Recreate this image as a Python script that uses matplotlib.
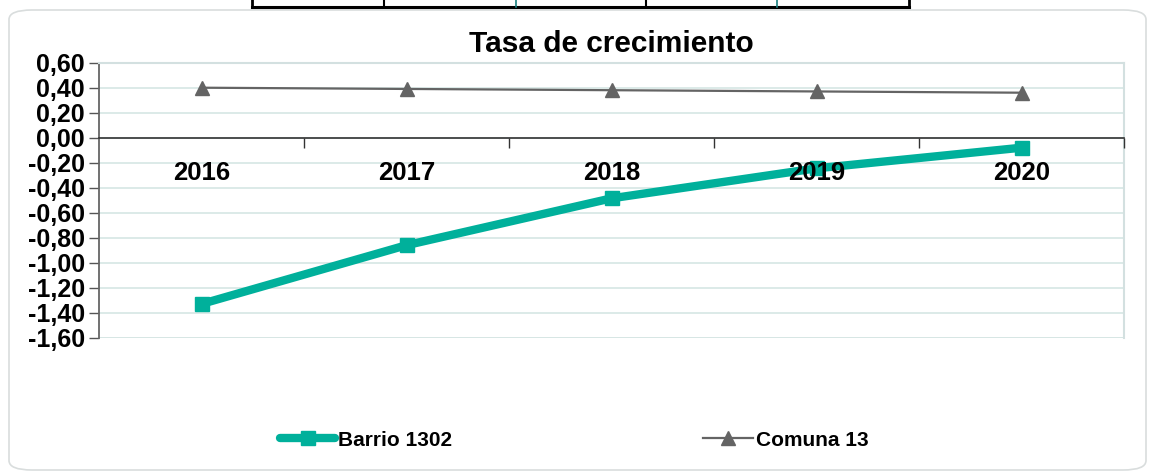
import matplotlib
matplotlib.use("Agg")
import matplotlib.pyplot as plt
from matplotlib.patches import FancyBboxPatch
from matplotlib.lines import Line2D
import numpy as np

plt.rcParams['font.family'] = ['Liberation Sans', 'DejaVu Sans']

years = ['2016', '2017', '2018', '2019', '2020']
barrio_1302 = [-1.33, -0.86, -0.485, -0.245, -0.08]
comuna_13 = [0.40, 0.39, 0.38, 0.37, 0.36]
y_ticks = [0.6, 0.4, 0.2, 0.0, -0.2, -0.4, -0.6, -0.8, -1.0, -1.2, -1.4, -1.6]

W, H = 1150, 472
fig = plt.figure(figsize=(W / 100, H / 100), dpi=100)
fig.patch.set_facecolor('white')

def fx(px):
    return px / W

def fy(py):
    return 1 - py / H

# outer rounded frame
frame = FancyBboxPatch((fx(9), fy(470)), fx(1146) - fx(9), fy(10) - fy(470),
                       boxstyle="round,pad=0,rounding_size=0.02",
                       transform=fig.transFigure, facecolor='none',
                       edgecolor='#d9dddd', linewidth=1.2, zorder=-1)
fig.patches.append(frame)

# table fragment at top
fig.add_artist(Line2D([fx(252), fx(909)], [fy(7), fy(7)], transform=fig.transFigure,
                      color='black', lw=2.2))
for xv, col, lw in [(252, 'black', 2), (384, 'black', 1.5), (516, '#1a7f7f', 1.2),
                    (646, 'black', 1.5), (777, '#1a7f7f', 1.2), (909, 'black', 2)]:
    fig.add_artist(Line2D([fx(xv), fx(xv)], [fy(0), fy(7)], transform=fig.transFigure,
                          color=col, lw=lw))

ax = fig.add_axes([fx(99), fy(337.7), fx(1124) - fx(99), fy(62.7) - fy(337.7)])
ax.set_facecolor('none')

x = np.arange(len(years))
ax.set_xlim(-0.5, len(years) - 0.5)
ax.set_ylim(-1.6, 0.6)

# gridlines
ax.set_yticks(y_ticks)
ax.set_yticklabels([('%.2f' % v).replace('.', ',').replace('-0,00', '0,00') for v in y_ticks],
                   fontsize=18, fontweight='bold')
ax.yaxis.grid(True, color='#d6e6e4', linewidth=1.2)
ax.set_axisbelow(True)
ax.tick_params(axis='y', length=7, width=1, color='#555555', pad=3)

# spines
ax.spines['left'].set_color('#666666')
ax.spines['left'].set_linewidth(1.3)
ax.spines['top'].set_color('#d3e0e0')
ax.spines['right'].set_color('#d3e0e0')
ax.spines['top'].set_linewidth(1.5)
ax.spines['right'].set_linewidth(1.5)
ax.spines['bottom'].set_position(('data', 0))
ax.spines['bottom'].set_color('#333333')
ax.spines['bottom'].set_linewidth(1.2)

# category labels & boundary ticks
ax.set_xticks(x)
ax.set_xticklabels(years, fontsize=18.5, fontweight='bold')
ax.tick_params(axis='x', which='major', length=0, pad=17)
ax.set_xticks(np.arange(len(years)) + 0.5, minor=True)
ax.tick_params(axis='x', which='minor', length=7, width=1, color='#333333', direction='out')
ax.xaxis.set_zorder(5)

# bottom light line at -1.6
ax.axhline(-1.6, color='#d6e6e4', lw=1.2, zorder=0.5)

l1, = ax.plot(x, barrio_1302, color='#00b09b', lw=6, marker='s', markersize=10.5,
              solid_capstyle='round', label='Barrio 1302', zorder=3)
l2, = ax.plot(x, comuna_13, color='#646464', lw=1.6, marker='^', markersize=9.5,
              label='Comuna 13', zorder=3)

ax.set_title('Tasa de crecimiento', fontsize=21.5, fontweight='bold', pad=8)

leg1 = fig.legend(handles=[l1], loc='center left', bbox_to_anchor=(fx(280), fy(440)),
                  frameon=False, prop={'size': 15, 'weight': 'bold'},
                  handlelength=2.65, handletextpad=0.15, borderpad=0, borderaxespad=0)
leg2 = fig.legend(handles=[l2], loc='center left', bbox_to_anchor=(fx(703), fy(440)),
                  frameon=False, prop={'size': 15, 'weight': 'bold'},
                  handlelength=2.4, handletextpad=0.15, borderpad=0, borderaxespad=0)

fig.savefig('out.png', dpi=100, facecolor='white')
